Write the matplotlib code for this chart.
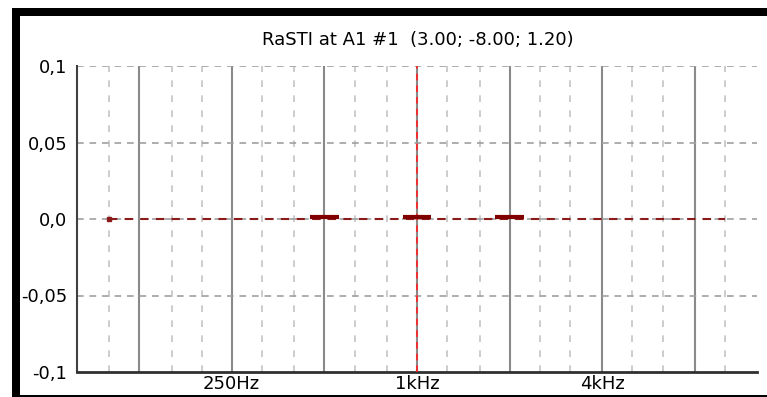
import numpy as np
import matplotlib.pyplot as plt
from matplotlib.patches import Rectangle

plt.rcParams['font.family'] = ['DejaVu Sans']

# third-octave band centres and their RaSTI deviation
band_freqs = [100, 125, 160, 200, 250, 315, 400, 500, 630, 800, 1000,
              1250, 1600, 2000, 2500, 3150, 4000, 5000, 6300, 8000, 10000]
band_values = [0.0] * len(band_freqs)

# octave bands used by RaSTI
rasti_freqs = [500, 1000, 2000]
rasti_values = [0.001, 0.001, 0.001]

octave_freqs = [125, 250, 500, 1000, 2000, 4000, 8000]
third_freqs = [100, 160, 200, 315, 400, 630, 800, 1250, 1600, 2500, 3150,
               5000, 6300, 10000]
xtick_freqs = [250, 1000, 4000]
xtick_labels = ['250Hz', '1kHz', '4kHz']
ytick_vals = [0.1, 0.05, 0.0, -0.05, -0.1]
ytick_labels = ['0,1', '0,05', '0,0', '-0,05', '-0,1']
cursor_freq = 1000

W, H = 767, 397
fig = plt.figure(figsize=(W / 100, H / 100), dpi=100)
ax = fig.add_axes([77 / W, (H - 372) / H, 680 / W, 306 / H])

ax.set_xscale('log', base=2)
ax.set_xlim(1000 * 2 ** (-11 / 3), 1000 * 2 ** (11 / 3))
ax.set_ylim(-0.1, 0.1)

# grid
for f in third_freqs:
    ax.axvline(f, color='#c4c4c4', lw=1.2, ls=(0, (4, 5)), zorder=1)
for f in octave_freqs:
    ax.axvline(f, color='#8a8a8a', lw=1.5, zorder=1)
for y in [0.1, 0.05, 0.0, -0.05]:
    ax.axhline(y, color='#a0a0a0', lw=1.2, ls=(0, (4, 3.5)), zorder=1)

# cursor
ax.axvline(cursor_freq, color='#ff2020', lw=1.2, ls=(0, (4, 3)), zorder=3)

# data
ax.plot(band_freqs, band_values, color='#8b1a1a', lw=1.5, ls=(0, (4, 3.5)), zorder=4)
ax.plot(band_freqs[0], band_values[0], 's', color='#8b1a1a', ms=2.5, zorder=4)
half = 2 ** (1 / 6.5)
ax.hlines(rasti_values, [f / half for f in rasti_freqs], [f * half for f in rasti_freqs],
          color='#800000', lw=3, zorder=5)

ax.set_xticks(xtick_freqs)
ax.set_xticklabels(xtick_labels)
ax.xaxis.set_minor_locator(plt.NullLocator())
ax.set_yticks(ytick_vals)
ax.set_yticklabels(ytick_labels)
ax.tick_params(axis='both', length=0, labelsize=13, colors='black')
ax.tick_params(axis='y', pad=7)
ax.tick_params(axis='x', pad=2)

for s in ['top', 'right']:
    ax.spines[s].set_visible(False)
ax.spines['left'].set_color('#404040')
ax.spines['left'].set_linewidth(1.5)
ax.spines['bottom'].set_color('#303030')
ax.spines['bottom'].set_linewidth(2)

fig.text(418 / W, 1 - 40 / H, 'RaSTI at A1 #1  (3.00; -8.00; 1.20)',
         ha='center', va='center', fontsize=13)

# window frame
fig.add_artist(Rectangle((12 / W, 1 - 16 / H), 1, 8 / H, transform=fig.transFigure,
                         color='black', lw=0))
fig.add_artist(Rectangle((12 / W, 1 - 396 / H), 8 / W, 388 / H, transform=fig.transFigure,
                         color='black', lw=0))
fig.add_artist(Rectangle((12 / W, 1 - 397 / H), 1, 2.5 / H, transform=fig.transFigure,
                         color='black', lw=0))

fig.savefig('out.png', dpi=100)
